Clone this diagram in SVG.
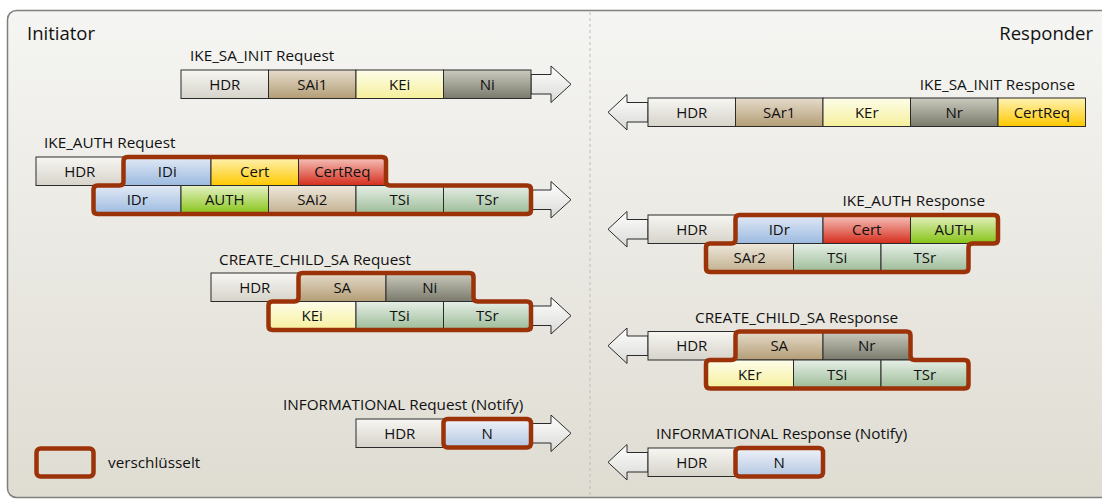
<svg xmlns="http://www.w3.org/2000/svg" width="1102" height="500" viewBox="0 0 1102 500">
<defs>
<linearGradient id="bg" x1="0" y1="0" x2="0" y2="1"><stop offset="0" stop-color="#f5f5f3"/><stop offset="1" stop-color="#dfdcd2"/></linearGradient>
<linearGradient id="gHDR" x1="0" y1="0" x2="0" y2="1"><stop offset="0" stop-color="#f7f6f2"/><stop offset="1" stop-color="#d6d3ca"/></linearGradient>
<linearGradient id="gSA" x1="0" y1="0" x2="0" y2="1"><stop offset="0" stop-color="#e6dccb"/><stop offset="1" stop-color="#b39d76"/></linearGradient>
<linearGradient id="gSA2" x1="0" y1="0" x2="0" y2="1"><stop offset="0" stop-color="#eee8dc"/><stop offset="1" stop-color="#c2b08f"/></linearGradient>
<linearGradient id="gKE" x1="0" y1="0" x2="0" y2="1"><stop offset="0" stop-color="#fdfdea"/><stop offset="1" stop-color="#f6f09c"/></linearGradient>
<linearGradient id="gN" x1="0" y1="0" x2="0" y2="1"><stop offset="0" stop-color="#cacabe"/><stop offset="1" stop-color="#7a7a6c"/></linearGradient>
<linearGradient id="gYel" x1="0" y1="0" x2="0" y2="1"><stop offset="0" stop-color="#fff3b5"/><stop offset="1" stop-color="#ffc800"/></linearGradient>
<linearGradient id="gRed" x1="0" y1="0" x2="0" y2="1"><stop offset="0" stop-color="#f6c6bf"/><stop offset="1" stop-color="#d52d1c"/></linearGradient>
<linearGradient id="gID" x1="0" y1="0" x2="0" y2="1"><stop offset="0" stop-color="#e2eaf5"/><stop offset="1" stop-color="#9cbae0"/></linearGradient>
<linearGradient id="gAUTH" x1="0" y1="0" x2="0" y2="1"><stop offset="0" stop-color="#e6f2c4"/><stop offset="1" stop-color="#86c316"/></linearGradient>
<linearGradient id="gTS" x1="0" y1="0" x2="0" y2="1"><stop offset="0" stop-color="#e6efe6"/><stop offset="1" stop-color="#9bbb97"/></linearGradient>
<linearGradient id="gNot" x1="0" y1="0" x2="0" y2="1"><stop offset="0" stop-color="#f0f3f9"/><stop offset="1" stop-color="#b4c7e2"/></linearGradient>
<linearGradient id="gArr" x1="0" y1="0" x2="0" y2="1"><stop offset="0" stop-color="#ffffff"/><stop offset="1" stop-color="#d9d9d6"/></linearGradient>
</defs>
<style>
.c{stroke:#2b2b2b;stroke-width:1}
.t{font-family:"Open Sans","Noto Sans",sans-serif;font-size:15px;fill:#111;text-anchor:middle}
.lbl{font-family:"Open Sans","Noto Sans",sans-serif;font-size:15.3px;fill:#111}
.big{font-family:"Open Sans","Noto Sans",sans-serif;font-size:18.5px;fill:#111}
.enc{fill:none;stroke:#9b3208;stroke-width:4.5;stroke-linejoin:round}
.arr{fill:url(#gArr);stroke:#2b2b2b;stroke-width:1}
</style>
<g id="frame">
<rect x="7.5" y="10.5" width="1110" height="487" rx="9" fill="url(#bg)" stroke="#808080" stroke-width="1.5"/>
<line x1="590" y1="12" x2="590" y2="496" stroke="#bdbdbd" stroke-width="1" stroke-dasharray="3 3"/>
<text class="big" x="27" y="39.5">Initiator</text>
<text class="big" x="1093" y="39.5" text-anchor="end">Responder</text>
</g>
<g id="connectors">
<polygon class="arr" points="531,74.5 551,74.5 551,66 571,84.25 551,102.5 551,94 531,94"/>
<polygon class="arr" points="531,190 551,190 551,181.5 571,199.75 551,218 551,209.5 531,209.5"/>
<polygon class="arr" points="531,306 551,306 551,297.5 571,315.75 551,334 551,325.5 531,325.5"/>
<polygon class="arr" points="531,423.5 551,423.5 551,415 571,433.25 551,451.5 551,443 531,443"/>
<polygon class="arr" points="648,102.5 627,102.5 627,94.5 608,112.25 627,130 627,122 648,122"/>
<polygon class="arr" points="648,219.5 627,219.5 627,211.5 608,229.25 627,247 627,239 648,239"/>
<polygon class="arr" points="648,336 627,336 627,328 608,345.75 627,363.5 627,355.5 648,355.5"/>
<polygon class="arr" points="648,452.5 627,452.5 627,444.5 608,462.25 627,480 627,472 648,472"/>
</g>
<g id="ike_sa_init_request">
<text class="lbl" x="190" y="60.5">IKE_SA_INIT Request</text>
<rect class="c" x="181" y="70" width="87.5" height="28.5" fill="url(#gHDR)"/><text class="t" x="224.75" y="89.5">HDR</text>
<rect class="c" x="268.5" y="70" width="87.5" height="28.5" fill="url(#gSA)"/><text class="t" x="312.25" y="89.5">SAi1</text>
<rect class="c" x="356" y="70" width="87.5" height="28.5" fill="url(#gKE)"/><text class="t" x="399.75" y="89.5">KEi</text>
<rect class="c" x="443.5" y="70" width="87.5" height="28.5" fill="url(#gN)"/><text class="t" x="487.25" y="89.5">Ni</text>
</g>
<g id="ike_sa_init_response">
<text class="lbl" x="1075" y="89.5" text-anchor="end">IKE_SA_INIT Response</text>
<rect class="c" x="648" y="98" width="87.5" height="28.5" fill="url(#gHDR)"/><text class="t" x="691.75" y="117.5">HDR</text>
<rect class="c" x="735.5" y="98" width="87.5" height="28.5" fill="url(#gSA)"/><text class="t" x="779.25" y="117.5">SAr1</text>
<rect class="c" x="823" y="98" width="87.5" height="28.5" fill="url(#gKE)"/><text class="t" x="866.75" y="117.5">KEr</text>
<rect class="c" x="910.5" y="98" width="87.5" height="28.5" fill="url(#gN)"/><text class="t" x="954.25" y="117.5">Nr</text>
<rect class="c" x="998" y="98" width="87.5" height="28.5" fill="url(#gYel)"/><text class="t" x="1041.75" y="117.5">CertReq</text>
</g>
<g id="ike_auth_request">
<text class="lbl" x="44" y="147.5">IKE_AUTH Request</text>
<rect class="c" x="36" y="157" width="87.5" height="28.5" fill="url(#gHDR)"/><text class="t" x="79.75" y="176.5">HDR</text>
<rect class="c" x="123.5" y="157" width="87.5" height="28.5" fill="url(#gID)"/><text class="t" x="167.25" y="176.5">IDi</text>
<rect class="c" x="211" y="157" width="87.5" height="28.5" fill="url(#gYel)"/><text class="t" x="254.75" y="176.5">Cert</text>
<rect class="c" x="298.5" y="157" width="87.5" height="28.5" fill="url(#gRed)"/><text class="t" x="342.25" y="176.5">CertReq</text>
<rect class="c" x="93.5" y="185.5" width="87.5" height="28.5" fill="url(#gID)"/><text class="t" x="137.25" y="205">IDr</text>
<rect class="c" x="181" y="185.5" width="87.5" height="28.5" fill="url(#gAUTH)"/><text class="t" x="224.75" y="205">AUTH</text>
<rect class="c" x="268.5" y="185.5" width="87.5" height="28.5" fill="url(#gSA2)"/><text class="t" x="312.25" y="205">SAi2</text>
<rect class="c" x="356" y="185.5" width="87.5" height="28.5" fill="url(#gTS)"/><text class="t" x="399.75" y="205">TSi</text>
<rect class="c" x="443.5" y="185.5" width="87.5" height="28.5" fill="url(#gTS)"/><text class="t" x="487.25" y="205">TSr</text>
<path class="enc" d="M127.5,157 H382 Q386,157 386,161 V181.5 Q386,185.5 390,185.5 H527 Q531,185.5 531,189.5 V210 Q531,214 527,214 H97.5 Q93.5,214 93.5,210 V189.5 Q93.5,185.5 97.5,185.5 H119.5 Q123.5,185.5 123.5,181.5 V161 Q123.5,157 127.5,157 Z"/>
</g>
<g id="ike_auth_response">
<text class="lbl" x="985" y="205.5" text-anchor="end">IKE_AUTH Response</text>
<rect class="c" x="648" y="215" width="87.5" height="28.5" fill="url(#gHDR)"/><text class="t" x="691.75" y="234.5">HDR</text>
<rect class="c" x="735.5" y="215" width="87.5" height="28.5" fill="url(#gID)"/><text class="t" x="779.25" y="234.5">IDr</text>
<rect class="c" x="823" y="215" width="87.5" height="28.5" fill="url(#gRed)"/><text class="t" x="866.75" y="234.5">Cert</text>
<rect class="c" x="910.5" y="215" width="87.5" height="28.5" fill="url(#gAUTH)"/><text class="t" x="954.25" y="234.5">AUTH</text>
<rect class="c" x="706" y="243.5" width="87.5" height="28.5" fill="url(#gSA2)"/><text class="t" x="749.75" y="263">SAr2</text>
<rect class="c" x="793.5" y="243.5" width="87.5" height="28.5" fill="url(#gTS)"/><text class="t" x="837.25" y="263">TSi</text>
<rect class="c" x="881" y="243.5" width="87.5" height="28.5" fill="url(#gTS)"/><text class="t" x="924.75" y="263">TSr</text>
<path class="enc" d="M739.5,215 H994 Q998,215 998,219 V239.5 Q998,243.5 994,243.5 H972.5 Q968.5,243.5 968.5,247.5 V268 Q968.5,272 964.5,272 H710 Q706,272 706,268 V247.5 Q706,243.5 710,243.5 H731.5 Q735.5,243.5 735.5,239.5 V219 Q735.5,215 739.5,215 Z"/>
</g>
<g id="create_child_sa_request">
<text class="lbl" x="219" y="264.5">CREATE_CHILD_SA Request</text>
<rect class="c" x="211" y="273" width="87.5" height="28.5" fill="url(#gHDR)"/><text class="t" x="254.75" y="292.5">HDR</text>
<rect class="c" x="298.5" y="273" width="87.5" height="28.5" fill="url(#gSA)"/><text class="t" x="342.25" y="292.5">SA</text>
<rect class="c" x="386" y="273" width="87.5" height="28.5" fill="url(#gN)"/><text class="t" x="429.75" y="292.5">Ni</text>
<rect class="c" x="268.5" y="301.5" width="87.5" height="28.5" fill="url(#gKE)"/><text class="t" x="312.25" y="321">KEi</text>
<rect class="c" x="356" y="301.5" width="87.5" height="28.5" fill="url(#gTS)"/><text class="t" x="399.75" y="321">TSi</text>
<rect class="c" x="443.5" y="301.5" width="87.5" height="28.5" fill="url(#gTS)"/><text class="t" x="487.25" y="321">TSr</text>
<path class="enc" d="M302.5,273 H469.5 Q473.5,273 473.5,277 V297.5 Q473.5,301.5 477.5,301.5 H527 Q531,301.5 531,305.5 V326 Q531,330 527,330 H272.5 Q268.5,330 268.5,326 V305.5 Q268.5,301.5 272.5,301.5 H294.5 Q298.5,301.5 298.5,297.5 V277 Q298.5,273 302.5,273 Z"/>
</g>
<g id="create_child_sa_response">
<text class="lbl" x="695" y="322.5">CREATE_CHILD_SA Response</text>
<rect class="c" x="648" y="331.5" width="87.5" height="28.5" fill="url(#gHDR)"/><text class="t" x="691.75" y="351">HDR</text>
<rect class="c" x="735.5" y="331.5" width="87.5" height="28.5" fill="url(#gSA)"/><text class="t" x="779.25" y="351">SA</text>
<rect class="c" x="823" y="331.5" width="87.5" height="28.5" fill="url(#gN)"/><text class="t" x="866.75" y="351">Nr</text>
<rect class="c" x="706" y="360" width="87.5" height="28.5" fill="url(#gKE)"/><text class="t" x="749.75" y="379.5">KEr</text>
<rect class="c" x="793.5" y="360" width="87.5" height="28.5" fill="url(#gTS)"/><text class="t" x="837.25" y="379.5">TSi</text>
<rect class="c" x="881" y="360" width="87.5" height="28.5" fill="url(#gTS)"/><text class="t" x="924.75" y="379.5">TSr</text>
<path class="enc" d="M739.5,331.5 H906.5 Q910.5,331.5 910.5,335.5 V356 Q910.5,360 914.5,360 H964.5 Q968.5,360 968.5,364 V384.5 Q968.5,388.5 964.5,388.5 H710 Q706,388.5 706,384.5 V364 Q706,360 710,360 H731.5 Q735.5,360 735.5,356 V335.5 Q735.5,331.5 739.5,331.5 Z"/>
</g>
<g id="informational_request">
<text class="lbl" x="283" y="409.5">INFORMATIONAL Request (Notify)</text>
<rect class="c" x="356" y="419" width="87.5" height="28.5" fill="url(#gHDR)"/><text class="t" x="399.75" y="438.5">HDR</text>
<rect class="c" x="443.5" y="419" width="87.5" height="28.5" fill="url(#gNot)"/><text class="t" x="487.25" y="438.5">N</text>
<rect class="enc" x="443.5" y="419" width="87.5" height="28.5" rx="4"/>
</g>
<g id="informational_response">
<text class="lbl" x="656" y="438.5">INFORMATIONAL Response (Notify)</text>
<rect class="c" x="648" y="448" width="87.5" height="28.5" fill="url(#gHDR)"/><text class="t" x="691.75" y="467.5">HDR</text>
<rect class="c" x="735.5" y="448" width="87.5" height="28.5" fill="url(#gNot)"/><text class="t" x="779.25" y="467.5">N</text>
<rect class="enc" x="735.5" y="448" width="87.5" height="28.5" rx="4"/>
</g>
<g id="legend">
<rect class="enc" x="36.5" y="448.5" width="57" height="28" rx="4"/>
<text class="lbl" x="108" y="467.5">verschlüsselt</text>
</g>
</svg>
